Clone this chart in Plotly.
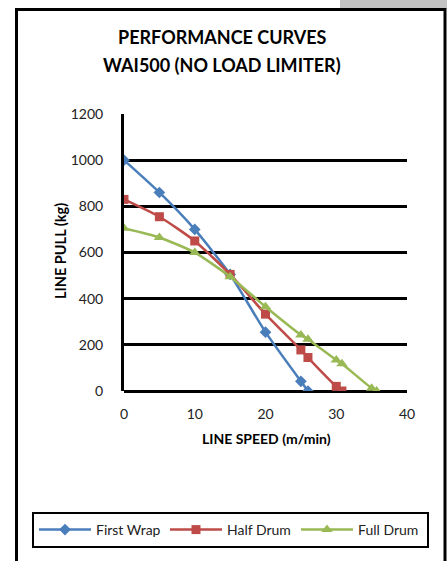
import plotly.graph_objects as go

# ---- data ----
first_wrap_speed = [0, 5, 10, 15, 20, 25, 26]
first_wrap_pull = [1000, 860, 700, 505, 255, 42, 0]

half_drum_speed = [0, 5, 10, 15, 20, 25, 26, 30, 30.8]
half_drum_pull = [830, 755, 650, 505, 333, 178, 145, 20, 0]

full_drum_speed = [0, 5, 10, 15, 20, 25, 26, 30, 30.8, 35, 35.7]
full_drum_pull = [705, 665, 600, 495, 365, 243, 224, 134, 118, 12, 0]

x_ticks = [0, 10, 20, 30, 40]
y_ticks = [0, 200, 400, 600, 800, 1000, 1200]

W, H = 447, 561
L, R, T, B = 124, 407, 114, 391  # plot area pixels


def px(x):
    return (x - L) / (R - L)


def py(y):
    return (B - y) / (B - T)


FONT = "Lato, 'Open Sans', sans-serif"

fig = go.Figure()
series = [
    ("First Wrap", first_wrap_speed, first_wrap_pull, "#4A7EBB", "diamond", 9),
    ("Half Drum", half_drum_speed, half_drum_pull, "#BE4B48", "square", 9),
    ("Full Drum", full_drum_speed, full_drum_pull, "#98B954", "triangle-up", 10),
]
for name, xs, ys, col, sym, sz in series:
    fig.add_trace(go.Scatter(
        x=xs, y=ys, name=name, mode="lines+markers",
        line=dict(color=col, width=2.5, shape="spline", smoothing=0.6),
        marker=dict(symbol=sym, size=sz, color=col),
    ))

fig.update_layout(
    width=W, height=H,
    margin=dict(l=L, r=W - R, t=T, b=H - B, pad=0, autoexpand=False),
    paper_bgcolor="white", plot_bgcolor="white",
    font=dict(family=FONT, size=14, color="#222"),
    showlegend=True,
    legend=dict(
        orientation="h", x=px(32), y=py(512), xanchor="left", yanchor="top",
        bordercolor="black", borderwidth=2, font=dict(size=14, family=FONT),
        itemwidth=52, entrywidth=64, bgcolor="white",
    ),
    xaxis=dict(
        range=[0, 40], tickvals=x_ticks, showgrid=False, zeroline=False,
        showline=False, ticks="", ticklabelstandoff=13,
        tickfont=dict(size=14, family=FONT),
        fixedrange=True,
    ),
    yaxis=dict(
        range=[0, 1200], tickvals=y_ticks, showgrid=True, gridcolor="black",
        gridwidth=2.5, zeroline=True, zerolinecolor="black", zerolinewidth=3,
        showline=True, linecolor="black", linewidth=3, ticks="",
        ticklabelstandoff=15, tickfont=dict(size=14, family=FONT),
        fixedrange=True,
    ),
)


def label(text, x, y, size, angle=0):
    fig.add_annotation(text=text, x=px(x), y=py(y), xref="paper", yref="paper",
                       xanchor="center", yanchor="middle", showarrow=False,
                       textangle=angle,
                       font=dict(size=size, family=FONT, color="black"))


label("<b>PERFORMANCE CURVES</b>", 222, 37, 18)
label("<b>WAI500 (NO LOAD LIMITER)</b>", 222, 65, 18)
label("<b>LINE SPEED (m/min)</b>", 266, 438, 14)
label("<b>LINE PULL (kg)</b>", 60, 251, 14.5, -90)

# outer frame and gray corner
fig.add_shape(type="rect", xref="paper", yref="paper",
              x0=px(340), x1=px(447), y0=py(0), y1=py(8.5),
              fillcolor="#C3C3C3", line=dict(width=0), layer="below")
fig.add_shape(type="rect", xref="paper", yref="paper",
              x0=px(16.5), x1=px(445), y0=py(9.5), y1=py(570),
              line=dict(color="black", width=3), fillcolor="rgba(0,0,0,0)")

fig.write_html(
    "out.html",
    config={"displayModeBar": False},
    post_script="document.body.style.margin='0';document.body.style.overflow='hidden';",
)
